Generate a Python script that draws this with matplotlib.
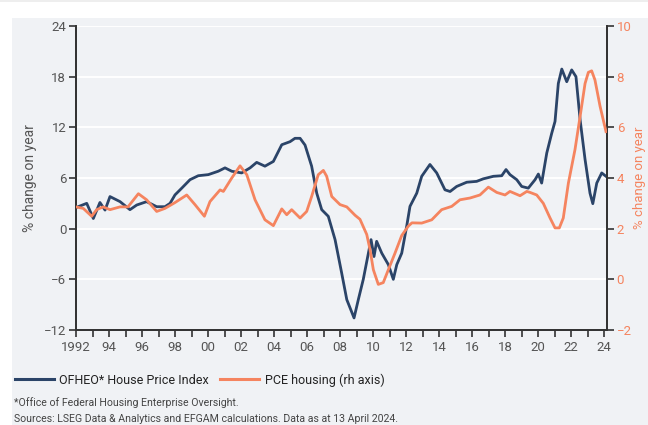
import matplotlib
matplotlib.use("Agg")
import matplotlib.pyplot as plt
from matplotlib.patches import Rectangle
from matplotlib.lines import Line2D

NAVY = "#2b4468"
ORANGE = "#f5845f"
PANEL = "#f0f2f5"
GREY = "#555555"

plt.rcParams['font.family'] = ['Roboto', 'DejaVu Sans']

# OFHEO house price index, % change on year (left axis)
hpi_year = [1992.00, 1992.65, 1993.05, 1993.45, 1993.76, 1994.06, 1994.67, 1995.27,
            1995.68, 1996.28, 1996.89, 1997.39, 1997.70, 1998.00, 1998.41, 1998.91,
            1999.41, 2000.02, 2000.62, 2001.03, 2001.44, 2002.04, 2002.55, 2002.95,
            2003.45, 2003.96, 2004.47, 2004.97, 2005.27, 2005.58, 2005.88, 2006.28,
            2006.59, 2006.89, 2007.29, 2007.70, 2008.10, 2008.41, 2008.85, 2009.11,
            2009.41, 2009.72, 2009.88, 2010.06, 2010.22, 2010.53, 2010.93, 2011.23,
            2011.44, 2011.74, 2012.04, 2012.24, 2012.65, 2012.95, 2013.45, 2013.86,
            2014.36, 2014.67, 2015.07, 2015.68, 2016.28, 2016.68, 2017.29, 2017.80,
            2018.06, 2018.30, 2018.71, 2019.01, 2019.41, 2019.82, 2020.02, 2020.22,
            2020.53, 2020.83, 2021.03, 2021.23, 2021.44, 2021.74, 2022.04, 2022.30,
            2022.55, 2022.85, 2023.15, 2023.32, 2023.56, 2023.86, 2024.12]
hpi = [2.5, 3.0, 1.2, 3.1, 2.2, 3.8, 3.2, 2.25,
       2.8, 3.2, 2.6, 2.6, 3.0, 4.0, 4.8, 5.8,
       6.27, 6.4, 6.8, 7.2, 6.8, 6.6, 7.2, 7.85,
       7.4, 7.96, 9.94, 10.3, 10.7, 10.7, 9.9, 7.4,
       4.2, 2.25, 1.46, -1.3, -5.25, -8.4, -10.57, -8.4,
       -6.0, -2.9, -1.3, -3.3, -1.5, -2.9, -4.26, -6.0,
       -4.26, -2.9, 0.28, 2.64, 4.2, 6.2, 7.6, 6.6,
       4.6, 4.4, 5.0, 5.5, 5.6, 5.9, 6.2, 6.27,
       7.0, 6.4, 5.8, 5.0, 4.8, 5.8, 6.47, 5.4,
       8.96, 11.3, 12.7, 17.2, 18.9, 17.4, 18.8, 18.0,
       12.9, 8.2, 4.2, 2.96, 5.4, 6.6, 6.2]

# PCE housing, % change on year (right axis)
pce_year = [1992.00, 1992.44, 1992.95, 1993.25, 1993.65, 1994.06, 1994.67, 1995.15,
            1995.78, 1996.28, 1996.89, 1997.39, 1998.00, 1998.71, 1999.21, 1999.78,
            2000.12, 2000.73, 2000.93, 2001.44, 2001.94, 2002.35, 2002.85, 2003.45,
            2003.96, 2004.47, 2004.77, 2005.07, 2005.58, 2005.98, 2006.28, 2006.68,
            2006.99, 2007.19, 2007.50, 2008.00, 2008.41, 2008.91, 2009.21, 2009.62,
            2009.82, 2010.02, 2010.32, 2010.62, 2010.93, 2011.33, 2011.74, 2012.14,
            2012.36, 2012.95, 2013.56, 2014.16, 2014.77, 2015.27, 2015.88, 2016.48,
            2016.99, 2017.50, 2018.00, 2018.30, 2018.91, 2019.32, 2019.52, 2019.92,
            2020.32, 2020.73, 2021.03, 2021.29, 2021.53, 2021.84, 2022.24, 2022.55,
            2022.85, 2023.05, 2023.25, 2023.45, 2023.76, 2024.12]
pce = [2.86, 2.8, 2.49, 2.75, 2.86, 2.75, 2.86, 2.86,
       3.38, 3.14, 2.68, 2.8, 3.03, 3.33, 2.95, 2.49,
       3.07, 3.53, 3.47, 4.0, 4.48, 4.13, 3.14, 2.35,
       2.12, 2.78, 2.55, 2.75, 2.42, 2.68, 3.27, 4.13,
       4.3, 4.07, 3.27, 2.95, 2.86, 2.53, 2.37, 1.77,
       1.17, 0.38, -0.2, -0.13, 0.38, 1.03, 1.73, 2.1,
       2.23, 2.22, 2.35, 2.75, 2.88, 3.14, 3.21, 3.33,
       3.64, 3.43, 3.33, 3.47, 3.3, 3.47, 3.43, 3.33,
       3.0, 2.42, 2.03, 2.03, 2.42, 3.8, 5.12, 6.43,
       7.73, 8.17, 8.23, 7.87, 6.83, 5.83]

years = list(range(1992, 2025))
year_labels = ["1992" if y == 1992 else ("%02d" % (y % 100) if y % 2 == 0 else "") for y in years]
left_ticks = [-12, -6, 0, 6, 12, 18, 24]
right_ticks = [-2, 0, 2, 4, 6, 8, 10]

fig = plt.figure(figsize=(6.48, 4.25), dpi=100)
W, H = 648, 425
fig.patches.append(Rectangle((12 / W, 0), 1 - 12 / W, 1 - 18 / H, transform=fig.transFigure,
                             facecolor=PANEL, edgecolor="none", zorder=-10))
fig.patches.append(Rectangle((0, 1 - 2 / H), 1, 2 / H, transform=fig.transFigure,
                             facecolor="#eeeeee", edgecolor="none", zorder=-10))

ax = fig.add_axes([76 / W, 1 - 330 / H, (607 - 76) / W, 304 / H])
ax2 = ax.twinx()

ax.set_xlim(1992, 2024.18)
ax.set_ylim(-12, 24)
ax2.set_ylim(-2, 10)
ax.set_yticks(left_ticks)
ax2.set_yticks(right_ticks)
ax.set_xticks(years)
ax.set_xticklabels(year_labels)

for t in left_ticks:
    ax.axhline(t, color="white", lw=1.4, zorder=1)

ax2.plot(pce_year, pce, color=ORANGE, lw=2.0, zorder=3)
ax.plot(hpi_year, hpi, color=NAVY, lw=2.0, zorder=4)
ax.set_zorder(1)
ax2.set_zorder(2)
ax.patch.set_visible(False)
ax2.patch.set_visible(False)

for a in (ax, ax2):
    a.spines["top"].set_visible(False)
    for s in ("left", "right", "bottom"):
        a.spines[s].set_color("#333333")
        a.spines[s].set_linewidth(1.3)

ax.tick_params(axis="x", direction="out", length=5, width=1.2, color="#333333",
               labelcolor=GREY, labelsize=9.5, pad=3)
ax.tick_params(axis="y", direction="out", length=5, width=1.2, color="#333333",
               labelcolor=GREY, labelsize=9.5, pad=2)
ax2.tick_params(axis="y", direction="out", length=5, width=1.2, color="#333333",
                labelcolor=ORANGE, labelsize=9.5, pad=2)

ax.set_ylabel("% change on year", color=GREY, fontsize=10, labelpad=5)
ax2.set_ylabel("% change on year", color=ORANGE, fontsize=9.5)
ax2.yaxis.set_label_coords((633 - 76) / 531, 0.5)

handles = [Line2D([], [], color=NAVY, lw=2.2), Line2D([], [], color=ORANGE, lw=2.2)]
fig.legend(handles, ["OFHEO* House Price Index", "PCE housing (rh axis)"],
           loc="center left", bbox_to_anchor=(15 / W, 1 - 380 / H), ncol=2, frameon=False,
           fontsize=9, handlelength=3.1, handletextpad=0.45, columnspacing=0.9,
           labelcolor="#222222", borderaxespad=0, borderpad=0)

fig.text(14 / W, 1 - 403 / H, "*Office of Federal Housing Enterprise Oversight.",
         fontsize=7.6, color="#444444", va="center")
fig.text(14 / W, 1 - 419 / H,
         "Sources: LSEG Data & Analytics and EFGAM calculations. Data as at 13 April 2024.",
         fontsize=7.6, color="#444444", va="center")

fig.savefig("out.png", dpi=100)
